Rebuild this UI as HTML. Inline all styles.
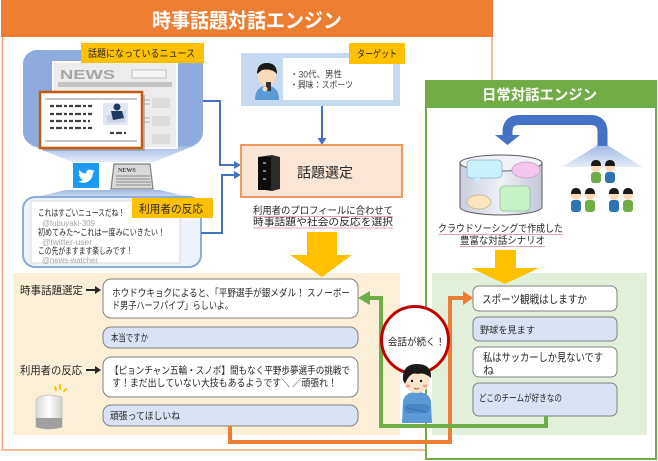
<!DOCTYPE html>
<html><head><meta charset="utf-8">
<style>
html,body{margin:0;padding:0;background:#fff;}
svg{display:block;font-family:"Liberation Sans","Noto Sans CJK JP",sans-serif;}
</style></head>
<body>
<svg width="658" height="461" viewBox="0 0 658 461" xmlns="http://www.w3.org/2000/svg">
<defs>
<linearGradient id="cone" x1="0" y1="0" x2="0" y2="1">
<stop offset="0" stop-color="#9fb8e3"/><stop offset="1" stop-color="#e6edf8"/>
</linearGradient>
<linearGradient id="cyl" x1="0" y1="0" x2="1" y2="0">
<stop offset="0" stop-color="#c9cedd"/><stop offset="0.5" stop-color="#eef0f6"/><stop offset="1" stop-color="#c3c8d8"/>
</linearGradient>
<linearGradient id="gh" x1="0" y1="0" x2="1" y2="0">
<stop offset="0" stop-color="#d8d8d8"/><stop offset="0.5" stop-color="#ffffff"/><stop offset="1" stop-color="#cfcfcf"/>
</linearGradient>
</defs>
<rect width="658" height="461" fill="#fff"/>

<!-- Outer orange box -->
<rect x="2.5" y="1" width="489.5" height="449" fill="#fff" stroke="#eea576" stroke-width="1.5"/>
<rect x="1" y="0" width="492" height="37" fill="#ed7d31"/>
<text x="152" y="27.5" font-size="20" font-weight="bold" fill="#fff" textLength="190" lengthAdjust="spacingAndGlyphs">時事話題対話エンジン</text>

<!-- News panel -->
<path d="M30 145 L196 145 L154 162 L72 162 Z" fill="url(#cone)"/>
<rect x="23" y="50" width="180" height="96" rx="14" fill="#8faadc"/>
<rect x="53" y="62" width="124" height="86" fill="#ececec" stroke="#fafafa" stroke-width="2"/>
<text x="60" y="79" font-size="13" font-weight="bold" fill="#a6a6a6" textLength="55" lengthAdjust="spacingAndGlyphs">NEWS</text>
<rect x="132" y="70" width="34" height="8" fill="#f5f5f5" stroke="#bfbfbf" stroke-width="1"/>
<rect x="58" y="82" width="114" height="5" fill="#c4c4c4"/>
<rect x="152" y="98" width="18" height="10" fill="#dcdcdc"/>
<rect x="152" y="116" width="18" height="10" fill="#dcdcdc"/>
<rect x="152" y="134" width="18" height="10" fill="#dcdcdc"/>
<g stroke="#b0b0b0" stroke-width="1"><line x1="144" y1="100" x2="150" y2="100"/><line x1="144" y1="104" x2="150" y2="104"/><line x1="144" y1="118" x2="150" y2="118"/><line x1="144" y1="122" x2="150" y2="122"/></g>
<rect x="43" y="95" width="102" height="56" fill="#7f7f7f" opacity="0.45"/>
<rect x="40" y="92" width="102" height="56" fill="#fff" stroke="#c55a11" stroke-width="2.5"/>
<g stroke="#8c8c8c" stroke-width="1"><line x1="45" y1="99" x2="137" y2="99"/><line x1="45" y1="141" x2="137" y2="141"/></g>
<g stroke="#404040" stroke-width="2.2" stroke-dasharray="4 2 6 2 3 2"><line x1="50" y1="106" x2="94" y2="106"/><line x1="50" y1="114" x2="94" y2="114"/><line x1="50" y1="121" x2="90" y2="121"/><line x1="50" y1="128" x2="94" y2="128"/><line x1="110" y1="133" x2="126" y2="133"/></g>
<rect x="103" y="103" width="25" height="22" fill="#e2e6f2"/>
<path d="M106 116 L126 110 L125 122 L108 123 Z" fill="#c9d2e8"/>
<circle cx="117" cy="107" r="3.5" fill="#1f3864"/>
<path d="M111 111 L122 111 L124 118 L113 120 Z" fill="#1f3864"/>
<rect x="81" y="43" width="123" height="20" fill="#ffc000"/>
<text x="88" y="57" font-size="10" fill="#262626" textLength="107" lengthAdjust="spacingAndGlyphs">話題になっているニュース</text>

<!-- twitter + newspaper icons -->
<rect x="73" y="163" width="26" height="25" fill="#1d9bf0"/>
<path transform="translate(77.5 167.5) scale(0.72)" fill="#fff" d="M23.643 4.937c-.835.37-1.732.62-2.675.733.962-.576 1.7-1.49 2.048-2.578-.9.534-1.897.922-2.958 1.13-.85-.904-2.06-1.47-3.4-1.47-2.572 0-4.658 2.086-4.658 4.66 0 .364.042.718.12 1.06-3.873-.195-7.304-2.05-9.602-4.868-.4.69-.63 1.49-.63 2.342 0 1.616.823 3.043 2.072 3.878-.764-.025-1.482-.234-2.11-.583v.06c0 2.257 1.605 4.14 3.737 4.568-.392.106-.803.162-1.227.162-.3 0-.593-.028-.877-.082.593 1.85 2.313 3.198 4.352 3.234-1.595 1.25-3.604 1.995-5.786 1.995-.376 0-.747-.022-1.112-.065 2.062 1.323 4.51 2.093 7.14 2.093 8.57 0 13.255-7.098 13.255-13.254 0-.2-.005-.402-.014-.602.91-.658 1.7-1.477 2.323-2.41z"/>
<path d="M114 164 L150 164 L153 189 L111 189 Z" fill="#d9d9d9" stroke="#7f7f7f" stroke-width="1.2"/>
<text x="118" y="172" font-size="6" font-weight="bold" fill="#404040" font-family="Liberation Serif,serif">NEWS</text>
<g stroke="#8c8c8c" stroke-width="1"><line x1="116" y1="176" x2="150" y2="176"/><line x1="116" y1="179" x2="150" y2="179"/><line x1="116" y1="182" x2="151" y2="182"/><line x1="116" y1="185" x2="151" y2="185"/></g>

<!-- reaction panel -->
<path d="M66 190 L160 190 L201 200 L23 200 Z" fill="url(#cone)"/>
<rect x="23" y="197" width="178" height="70" rx="12" fill="#eef2fa" stroke="#8faadc" stroke-width="2"/>
<rect x="31" y="201" width="149" height="62" fill="#fff" stroke="#d9d9d9" stroke-width="1"/>
<rect x="132" y="198" width="81" height="20" fill="#ffc000"/>
<text x="139" y="212.5" font-size="11" fill="#262626" textLength="64" lengthAdjust="spacingAndGlyphs">利用者の反応</text>
<g font-size="9" fill="#262626">
<text x="38" y="216" textLength="87" lengthAdjust="spacingAndGlyphs">これはすごいニュースだね！</text>
<text x="38" y="235.5" textLength="127" lengthAdjust="spacingAndGlyphs">初めてみた～これは一度みにいきたい！</text>
<text x="38" y="254" textLength="95" lengthAdjust="spacingAndGlyphs">この先がますます楽しみです！</text>
</g>
<g font-size="8" fill="#a6a6a6">
<text x="42" y="226" textLength="53" lengthAdjust="spacingAndGlyphs">@tubuyaki-309</text>
<text x="42" y="245" textLength="50" lengthAdjust="spacingAndGlyphs">@twitter-user</text>
<text x="42" y="263" textLength="56" lengthAdjust="spacingAndGlyphs">@news-watcher</text>
</g>

<!-- blue connectors -->
<g fill="none" stroke="#4472c4" stroke-width="2">
<path d="M203 101 H220 V165 H235"/>
<path d="M201 233 H222 V175 H235"/>
<path d="M322 106 V139"/>
</g>
<g fill="#4472c4">
<path d="M234 161 L241 165 L234 169 Z"/>
<path d="M234 171 L241 175 L234 179 Z"/>
<path d="M317.5 138 L326.5 138 L322 145 Z"/>
</g>

<!-- target -->
<rect x="241" y="53" width="159" height="53" fill="#c5d9f0"/>
<rect x="283" y="58" width="110" height="42" fill="#fff"/>
<path d="M255 100 Q255 86 267 86 Q279 86 279 100 Z" fill="#5b9bd5"/>
<ellipse cx="267" cy="76" rx="9" ry="10" fill="#fcd9b8"/>
<path d="M257 74 Q257 63 267 63 Q277 63 277 74 Q272 68 262 70 Z" fill="#1a1a1a"/>
<rect x="266" y="82" width="5" height="9" fill="#333"/>
<circle cx="265" cy="89" r="2.5" fill="#fcd9b8"/>
<rect x="349" y="43" width="56" height="21" fill="#ffc000"/>
<text x="357" y="57.5" font-size="10" fill="#262626" textLength="40" lengthAdjust="spacingAndGlyphs">ターゲット</text>
<text x="290" y="77.5" font-size="9" fill="#404040" textLength="52" lengthAdjust="spacingAndGlyphs">・30代、男性</text>
<text x="290" y="88" font-size="9" fill="#404040" textLength="63" lengthAdjust="spacingAndGlyphs">・興味：スポーツ</text>

<!-- topic selection -->
<rect x="241" y="145" width="161" height="52" fill="#fbe5d6" stroke="#ee9a60" stroke-width="2"/>
<path d="M258 157 L272 155 L280 157 L280 189 L272 191 L258 189 Z" fill="#2b2b2b"/>
<rect x="258" y="157" width="13" height="33" fill="#0d0d0d"/>
<g fill="#7f7f7f"><rect x="263" y="162" width="3" height="2"/><rect x="263" y="170" width="3" height="2"/><rect x="263" y="178" width="3" height="2"/></g>
<text x="297" y="177.5" font-size="14" fill="#262626" textLength="56" lengthAdjust="spacingAndGlyphs">話題選定</text>
<text x="253" y="214" font-size="10" fill="#262626" textLength="140" lengthAdjust="spacingAndGlyphs">利用者のプロフィールに合わせて</text>
<text x="253" y="225.5" font-size="10" fill="#262626" textLength="140" lengthAdjust="spacingAndGlyphs">時事話題や社会の反応を選択</text>
<g stroke="#e8a3b3" stroke-width="1"><line x1="253" y1="216.5" x2="393" y2="216.5"/><line x1="253" y1="228" x2="393" y2="228"/></g>

<!-- lower left panel -->
<rect x="13" y="273" width="387" height="162" fill="#fcefd8"/>
<path d="M307 232 L337 232 L337 255 L352 255 L322 277 L290 255 L307 255 Z" fill="#ffc000"/>

<g stroke="#808080" stroke-width="1">
<rect x="103" y="279" width="255" height="39" rx="8" fill="#fff"/>
<rect x="103" y="327" width="255" height="21" rx="8" fill="#dae3f3"/>
<rect x="103" y="357" width="255" height="40" rx="8" fill="#fff"/>
<rect x="103" y="405" width="255" height="21" rx="8" fill="#dae3f3"/>
</g>
<g font-size="10" fill="#262626">
<text x="112" y="296.5" textLength="238" lengthAdjust="spacingAndGlyphs">ホウドウキョクによると、「平野選手が銀メダル！ スノーボー</text>
<text x="112" y="309" textLength="121" lengthAdjust="spacingAndGlyphs">ド男子ハーフパイプ」らしいよ。</text>
<text x="111" y="341.5" textLength="37" lengthAdjust="spacingAndGlyphs">本当ですか</text>
<text x="110" y="374" textLength="240" lengthAdjust="spacingAndGlyphs">【ピョンチャン五輪・スノボ】間もなく平野歩夢選手の挑戦で</text>
<text x="112" y="386.5" textLength="225" lengthAdjust="spacingAndGlyphs">す！まだ出していない大技もあるようです＼ ／頑張れ！</text>
<text x="110" y="419.5" textLength="70" lengthAdjust="spacingAndGlyphs">頑張ってほしいね</text>
</g>
<g font-size="11" fill="#262626">
<text x="20" y="294" textLength="63" lengthAdjust="spacingAndGlyphs">時事話題選定</text>
<text x="20" y="374" textLength="62" lengthAdjust="spacingAndGlyphs">利用者の反応</text>
</g>
<g stroke="#262626" stroke-width="2"><line x1="86" y1="290" x2="96" y2="290"/><line x1="86" y1="370" x2="96" y2="370"/></g>
<g fill="#262626"><path d="M95 286 L101 290 L95 294 Z"/><path d="M95 366 L101 370 L95 374 Z"/></g>

<!-- google home -->
<path d="M36 401 Q36 396 49 395 L62 397 L62 427 Q49 431 36 427 Z" fill="url(#gh)" stroke="#bdbdbd" stroke-width="0.8"/>
<path d="M36 418 L62 418 L62 427 Q49 431 36 427 Z" fill="#a0a0a0"/>
<g stroke="#ffc000" stroke-width="2" stroke-linecap="round"><line x1="55" y1="387" x2="56" y2="390"/><line x1="60" y1="385" x2="60" y2="389"/><line x1="66" y1="389" x2="64" y2="391"/></g>

<!-- green box -->
<rect x="426" y="81" width="230" height="378" fill="#fff" stroke="#70ad47" stroke-width="2"/>
<rect x="425" y="80" width="232" height="28" fill="#70ad47"/>
<text x="482" y="100" font-size="14.5" font-weight="bold" fill="#fff" textLength="115" lengthAdjust="spacingAndGlyphs">日常対話エンジン</text>

<!-- blue curved arrow -->
<path d="M598 145 L607 145 L643 167 L562 167 Z" fill="url(#cone)"/>
<path d="M602.5 146 V132 Q602.5 120 590.5 120 H519.5 Q507.5 120 507.5 132 V136" fill="none" stroke="#4472c4" stroke-width="10"/>
<path d="M495 135 L520 135 L507.5 145 Z" fill="#4472c4"/>

<!-- cylinder -->
<path d="M460 163 V207 A41 8 0 0 0 542 207 V163 Z" fill="url(#cyl)" stroke="#595959" stroke-width="1"/>
<ellipse cx="501" cy="163" rx="41" ry="8" fill="#f1f2f7" stroke="#595959" stroke-width="1"/>
<rect x="467" y="160" width="35" height="18" rx="4" fill="#c9f1fb" stroke="#8fb4c8" stroke-width="0.8"/>
<path d="M474 178 L478 184 L480 178 Z" fill="#c9f1fb"/>
<ellipse cx="526" cy="170" rx="14" ry="8" fill="#f5c6ee" stroke="#c7a0c0" stroke-width="0.8"/>
<ellipse cx="479" cy="202" rx="12" ry="7" fill="#fbe5c0" stroke="#c8b090" stroke-width="0.8"/>
<rect x="500" y="186" width="30" height="25" rx="4" fill="#c6f3c6" stroke="#90c090" stroke-width="0.8"/>

<!-- people -->
<g>
<g id="p1"><rect x="591" y="172" width="10" height="11" rx="3" fill="#70ad47"/><circle cx="596" cy="167" r="5" fill="#fcd9b8"/><path d="M591 166 Q591 160 596 160 Q601 160 601 166 Z" fill="#1a1a1a"/></g>
<rect x="605" y="172" width="10" height="11" rx="3" fill="#2e75b6"/><circle cx="610" cy="167" r="5" fill="#fcd9b8"/><path d="M605 166 Q605 160 610 160 Q615 160 615 166 Z" fill="#1a1a1a"/>
<rect x="571" y="200" width="10" height="12" rx="3" fill="#2e75b6"/><circle cx="576" cy="195" r="5" fill="#fcd9b8"/><path d="M571 194 Q571 188 576 188 Q581 188 581 194 Z" fill="#1a1a1a"/>
<rect x="585" y="200" width="10" height="12" rx="3" fill="#70ad47"/><circle cx="590" cy="195" r="5" fill="#fcd9b8"/><path d="M585 194 Q585 188 590 188 Q595 188 595 194 Z" fill="#1a1a1a"/>
<rect x="609" y="200" width="10" height="12" rx="3" fill="#2e75b6"/><circle cx="614" cy="195" r="5" fill="#fcd9b8"/><path d="M609 194 Q609 188 614 188 Q619 188 619 194 Z" fill="#1a1a1a"/>
<rect x="623" y="200" width="10" height="12" rx="3" fill="#70ad47"/><circle cx="628" cy="195" r="5" fill="#fcd9b8"/><path d="M623 194 Q623 188 628 188 Q633 188 633 194 Z" fill="#1a1a1a"/>
</g>

<text x="438" y="232" font-size="10" fill="#262626" textLength="125" lengthAdjust="spacingAndGlyphs">クラウドソーシングで作成した</text>
<text x="460" y="244" font-size="10" fill="#262626" textLength="85" lengthAdjust="spacingAndGlyphs">豊富な対話シナリオ</text>
<g stroke="#e8a3b3" stroke-width="1"><line x1="438" y1="234.5" x2="563" y2="234.5"/><line x1="460" y1="246.5" x2="545" y2="246.5"/></g>

<!-- lower green panel -->
<rect x="432" y="273" width="215" height="162" fill="#e2efda"/>
<path d="M495 250 L516 250 L516 268 L539 268 L505 284 L471 268 L495 268 Z" fill="#ffc000"/>
<g stroke="#808080" stroke-width="1">
<rect x="473" y="286" width="144" height="25" rx="6" fill="#fff"/>
<rect x="473" y="317" width="144" height="24" rx="6" fill="#dae3f3"/>
<rect x="473" y="347" width="144" height="30" rx="6" fill="#fff"/>
<rect x="473" y="383" width="144" height="33" rx="6" fill="#dae3f3"/>
</g>
<text x="482" y="303" font-size="11" fill="#262626" textLength="105" lengthAdjust="spacingAndGlyphs">スポーツ観戦はしますか</text>
<text x="480" y="333.5" font-size="9.5" fill="#262626" textLength="55" lengthAdjust="spacingAndGlyphs">野球を見ます</text>
<text x="483" y="361" font-size="11" fill="#262626" textLength="120" lengthAdjust="spacingAndGlyphs">私はサッカーしか見ないです</text>
<text x="483" y="374" font-size="11" fill="#262626">ね</text>
<text x="479" y="401.5" font-size="9.5" fill="#262626" textLength="83" lengthAdjust="spacingAndGlyphs">どこのチームが好きなの</text>

<!-- loop connectors -->
<path d="M230 426 V442 H450 V298 H464" fill="none" stroke="#ed7d31" stroke-width="4"/>
<path d="M463 291 L473 298 L463 305 Z" fill="#ed7d31"/>
<path d="M546 416 V426 H381 V298 H369" fill="none" stroke="#70ad47" stroke-width="4"/>
<path d="M370 291 L358 298 L370 305 Z" fill="#70ad47"/>

<!-- red circle -->
<circle cx="415" cy="340" r="33.5" fill="#fff" stroke="#c00000" stroke-width="3"/>
<text x="388" y="345.5" font-size="10" fill="#262626" textLength="57" lengthAdjust="spacingAndGlyphs">会話が続く！</text>

<!-- person -->
<path d="M402 423 L403 401 Q405 392 417 392 Q429 392 431 401 L432 423 Z" fill="#5b9bd5"/>
<rect x="404" y="404" width="26" height="9" rx="4.5" fill="#4a86c5"/>
<path d="M407 408 L427 412" stroke="#2e75b6" stroke-width="1"/>
<ellipse cx="417" cy="381" rx="12.5" ry="12" fill="#fde3c8"/>
<path d="M403 380 Q402 364 417 364 Q432 364 431 378 Q424 372 418 374 Q410 371 405 384 Z" fill="#1a1a1a"/>
<circle cx="412" cy="381" r="1.2" fill="#1a1a1a"/><circle cx="421" cy="381" r="1.2" fill="#1a1a1a"/>
<ellipse cx="408" cy="386" rx="2.5" ry="1.5" fill="#f4a3a3"/><ellipse cx="425" cy="386" rx="2.5" ry="1.5" fill="#f4a3a3"/>
<path d="M414 388 Q416.5 390 419 388" stroke="#c0504d" stroke-width="1" fill="none"/>
</svg>
</body></html>
